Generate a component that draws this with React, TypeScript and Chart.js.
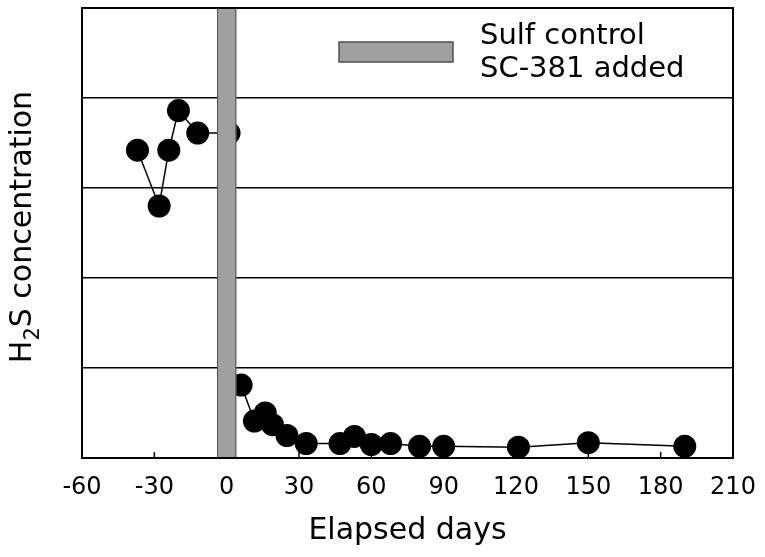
import React, { useEffect, useRef } from "react";
import { Chart, registerables } from "chart.js";

Chart.register(...registerables);

// ---- data ----
const preDays = [-37, -28, -24, -20, -12, 1];
const preH2S = [3.42, 2.8, 3.42, 3.86, 3.61, 3.61];
const postDays = [1, 6, 11.5, 16, 19, 25, 33, 47, 53, 60, 68, 80, 90, 121, 150, 190];
const postH2S = [0.8, 0.81, 0.41, 0.5, 0.37, 0.25, 0.16, 0.16, 0.24, 0.15, 0.16, 0.13, 0.13, 0.12, 0.17, 0.13];
const xTickValues = [-60, -30, 0, 30, 60, 90, 120, 150, 180, 210];
const yTickValues = [0, 1, 2, 3, 4, 5];
const sulfStart = -4;
const sulfEnd = 4;
const legendLines = ["Sulf control", "SC-381 added"];
const xTitle = "Elapsed days";
const yTitleMain = "H";
const yTitleSub = "2";
const yTitleRest = "S concentration";

const FONT = "'DejaVu Sans', 'Liberation Sans', sans-serif";

export default function App() {
  const ref = useRef<HTMLCanvasElement>(null);

  useEffect(() => {
    const canvas = ref.current!;
    const overlay = {
      id: "overlay",
      beforeDatasetsDraw(chart: any) {
        const { ctx, chartArea: ca, scales } = chart;
        const x = scales.x;
        ctx.save();
        ctx.strokeStyle = "#000";
        ctx.lineWidth = 1.5;
        for (const t of x.ticks) {
          const px = x.getPixelForValue(t.value);
          ctx.beginPath();
          ctx.moveTo(px, ca.bottom);
          ctx.lineTo(px, ca.bottom - 6);
          ctx.stroke();
        }
        ctx.restore();
      },
      afterDatasetsDraw(chart: any) {
        const { ctx, chartArea: ca, scales } = chart;
        const x = scales.x;
        ctx.save();
        const x0 = x.getPixelForValue(sulfStart);
        const x1 = x.getPixelForValue(sulfEnd);
        ctx.fillStyle = "#a0a0a0";
        ctx.strokeStyle = "#505050";
        ctx.lineWidth = 1;
        ctx.fillRect(x0, ca.top, x1 - x0, ca.bottom - ca.top);
        ctx.strokeRect(x0 + 0.5, ca.top, x1 - x0 - 1, ca.bottom - ca.top);
        // frame
        ctx.strokeStyle = "#000";
        ctx.lineWidth = 2;
        ctx.strokeRect(ca.left, ca.top, ca.right - ca.left, ca.bottom - ca.top);
        ctx.restore();
      },
      afterDraw(chart: any) {
        const { ctx, chartArea: ca } = chart;
        ctx.save();
        // legend
        ctx.fillStyle = "#a0a0a0";
        ctx.strokeStyle = "#505050";
        ctx.lineWidth = 1.5;
        ctx.fillRect(339, 42, 114, 20);
        ctx.strokeRect(339, 42, 114, 20);
        ctx.fillStyle = "#000";
        ctx.font = `29px ${FONT}`;
        ctx.textAlign = "left";
        ctx.textBaseline = "alphabetic";
        ctx.fillText(legendLines[0], 480, 44);
        ctx.fillText(legendLines[1], 480, 77);
        // y title with subscript
        const big = `30px ${FONT}`;
        const small = `21px ${FONT}`;
        ctx.font = big;
        const w1 = ctx.measureText(yTitleMain).width;
        const w3 = ctx.measureText(yTitleRest).width;
        ctx.font = small;
        const w2 = ctx.measureText(yTitleSub).width;
        const total = w1 + w2 + w3;
        const cy = (ca.top + ca.bottom) / 2 - 6;
        ctx.translate(31, cy);
        ctx.rotate(-Math.PI / 2);
        let pos = -total / 2;
        ctx.font = big;
        ctx.fillText(yTitleMain, pos, 0);
        pos += w1;
        ctx.font = small;
        ctx.fillText(yTitleSub, pos, 8);
        pos += w2;
        ctx.font = big;
        ctx.fillText(yTitleRest, pos, 0);
        ctx.restore();
      },
    };

    const ds = (days: number[], vals: number[]) => ({
      data: days.map((d, i) => ({ x: d, y: vals[i] })),
      borderColor: "#000",
      backgroundColor: "#000",
      borderWidth: 1.5,
      pointRadius: 11.5,
      pointBorderWidth: 0,
      pointStyle: "circle",
      tension: 0,
      clip: 12,
    });

    const chart = new Chart(canvas, {
      type: "line",
      data: {
        datasets: [ds(preDays, preH2S) as any, ds(postDays, postH2S) as any],
      },
      options: {
        animation: false,
        responsive: true,
        maintainAspectRatio: false,
        layout: { autoPadding: false, padding: { left: 8, top: 8, right: 32, bottom: 0 } },
        plugins: { legend: { display: false }, tooltip: { enabled: false } },
        scales: {
          x: {
            type: "linear",
            min: -60,
            max: 210,
            afterBuildTicks: (s: any) => {
              s.ticks = xTickValues.map((v) => ({ value: v }));
            },
            ticks: {
              color: "#000",
              font: { family: FONT, size: 24 },
              padding: 15,
              maxRotation: 0,
              autoSkip: false,
            },
            grid: { display: false, drawTicks: false },
            border: { display: false },
            title: {
              display: true,
              text: xTitle,
              color: "#000",
              font: { family: FONT, size: 30 },
              padding: { top: 0, bottom: 8 },
            },
            afterFit: (s: any) => {
              s.height = 99;
              s.paddingLeft = 0;
              s.paddingRight = 0;
            },
          },
          y: {
            type: "linear",
            min: 0,
            max: 5,
            afterBuildTicks: (s: any) => {
              s.ticks = yTickValues.map((v) => ({ value: v }));
            },
            ticks: { display: false },
            grid: { color: "#000", lineWidth: 1.5, drawTicks: false },
            border: { display: false },
            afterFit: (s: any) => {
              s.width = 74;
              s.paddingTop = 0;
              s.paddingBottom = 0;
            },
          },
        },
      },
      plugins: [overlay],
    });
    return () => chart.destroy();
  }, []);

  return (
    <div
      style={{
        position: "fixed",
        left: 0,
        top: 0,
        width: 765,
        height: 557,
        background: "#fff",
      }}
    >
      <canvas ref={ref} />
    </div>
  );
}
